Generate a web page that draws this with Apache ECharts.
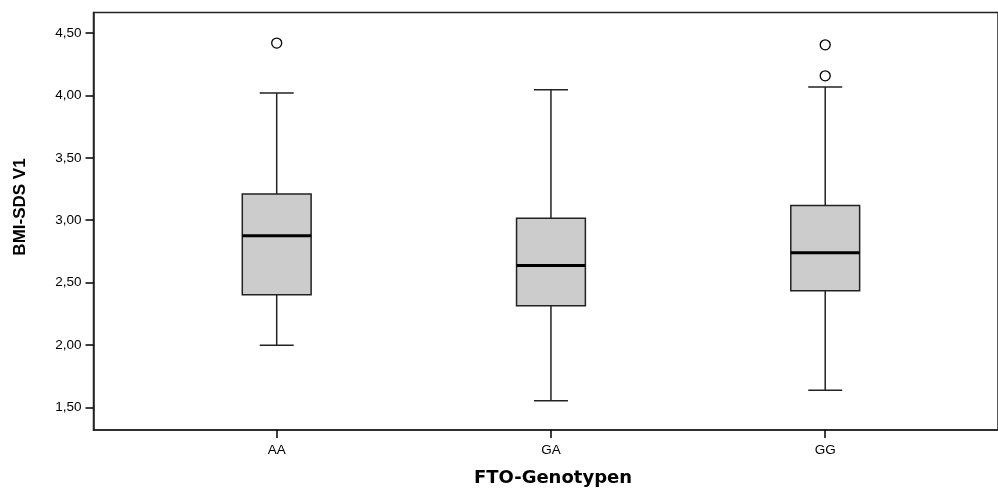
<!DOCTYPE html>
<html>
<head>
<meta charset="utf-8">
<script src="https://cdn.jsdelivr.net/npm/echarts@6/dist/echarts.min.js"></script>
<style>
html,body{margin:0;padding:0;background:#fff;}
#chart{width:998px;height:500px;}
</style>
</head>
<body>
<div id="chart"></div>
<script>
// ---- data ----
const categories = ['AA', 'GA', 'GG'];
const whiskerLow  = [1.997, 1.553, 1.636];
const q1          = [2.403, 2.315, 2.435];
const median      = [2.876, 2.636, 2.738];
const q3          = [3.209, 3.016, 3.117];
const whiskerHigh = [4.019, 4.045, 4.067];
const outlierCat  = [0, 2, 2];
const outlierVal  = [4.420, 4.406, 4.157];
const yTickValues = [1.5, 2.0, 2.5, 3.0, 3.5, 4.0, 4.5];
const xTitle = 'FTO-Genotypen';
const yTitle = 'BMI-SDS V1';

// ---- styles ----
const BOX_W = 0.251;   // in category units
const CAP_W = 0.124;
const LINE = '#222';

const boxData = categories.map((c, i) => [i, whiskerLow[i], q1[i], median[i], q3[i], whiskerHigh[i]]);
const outData = outlierCat.map((c, i) => [c, outlierVal[i]]);

function renderBox(params, api) {
  const x = api.value(0);
  const lo = api.coord([x, api.value(1)]);
  const b1 = api.coord([x, api.value(2)]);
  const md = api.coord([x, api.value(3)]);
  const b3 = api.coord([x, api.value(4)]);
  const hi = api.coord([x, api.value(5)]);
  const bw = api.size([BOX_W, 0])[0];
  const cw = api.size([CAP_W, 0])[0];
  const cx = lo[0];
  const ls = { stroke: LINE, lineWidth: 1.5, fill: null };
  return {
    type: 'group',
    children: [
      { type: 'line', shape: { x1: cx, y1: b3[1], x2: cx, y2: hi[1] }, style: ls },
      { type: 'line', shape: { x1: cx, y1: b1[1], x2: cx, y2: lo[1] }, style: ls },
      { type: 'line', shape: { x1: cx - cw / 2, y1: hi[1], x2: cx + cw / 2, y2: hi[1] }, style: ls },
      { type: 'line', shape: { x1: cx - cw / 2, y1: lo[1], x2: cx + cw / 2, y2: lo[1] }, style: ls },
      { type: 'rect', shape: { x: cx - bw / 2, y: b3[1], width: bw, height: b1[1] - b3[1] },
        style: { fill: '#cccccc', stroke: LINE, lineWidth: 1.5 } },
      { type: 'line', shape: { x1: cx - bw / 2, y1: md[1], x2: cx + bw / 2, y2: md[1] },
        style: { stroke: '#000', lineWidth: 3 } }
    ]
  };
}

const chart = echarts.init(document.getElementById('chart'), null, { renderer: 'canvas' });
const fmt = v => v.toFixed(2).replace('.', ',');

chart.setOption({
  animation: false,
  backgroundColor: '#fff',
  grid: {
    left: 93.5, right: -3, top: 12.5, bottom: 70,
    show: true, borderColor: LINE, borderWidth: 1.5, backgroundColor: 'transparent'
  },
  xAxis: {
    type: 'value',
    min: -0.668, max: 2.630,
    axisLine: { show: true, onZero: false, lineStyle: { color: LINE, width: 1.5 } },
    axisTick: { show: true, length: 8, customValues: [0, 1, 2], lineStyle: { color: '#000', width: 1.5 } },
    axisLabel: {
      customValues: [0, 1, 2],
      formatter: v => categories[Math.round(v)],
      margin: 13, color: '#000', fontSize: 13.5, fontFamily: 'Liberation Sans'
    },
    splitLine: { show: false }
  },
  yAxis: {
    type: 'value',
    min: 1.318, max: 4.665,
    axisLine: { show: true, onZero: false, lineStyle: { color: LINE, width: 1.5 } },
    axisTick: { show: true, length: 8, customValues: yTickValues, lineStyle: { color: '#000', width: 1.5 } },
    axisLabel: {
      customValues: yTickValues,
      formatter: fmt,
      margin: 12, color: '#000', fontSize: 13.5, fontFamily: 'Liberation Sans'
    },
    splitLine: { show: false }
  },
  graphic: [
    {
      type: 'text', x: 20.5, y: 207, rotation: Math.PI / 2,
      style: { text: yTitle, fill: '#000', font: 'bold 17px "Liberation Sans"', align: 'center', verticalAlign: 'middle' }
    },
    {
      type: 'text', x: 553, y: 478,
      style: { text: xTitle, fill: '#000', font: 'bold 18px "DejaVu Sans"', align: 'center', verticalAlign: 'middle' }
    }
  ],
  series: [
    {
      type: 'custom',
      renderItem: renderBox,
      encode: { x: 0, y: [1, 2, 3, 4, 5] },
      data: boxData,
      z: 2
    },
    {
      type: 'scatter',
      data: outData,
      symbol: 'circle',
      symbolSize: 10,
      itemStyle: { color: '#fff', borderColor: '#000', borderWidth: 1.3, opacity: 1 },
      z: 3
    }
  ]
});
</script>
</body>
</html>
